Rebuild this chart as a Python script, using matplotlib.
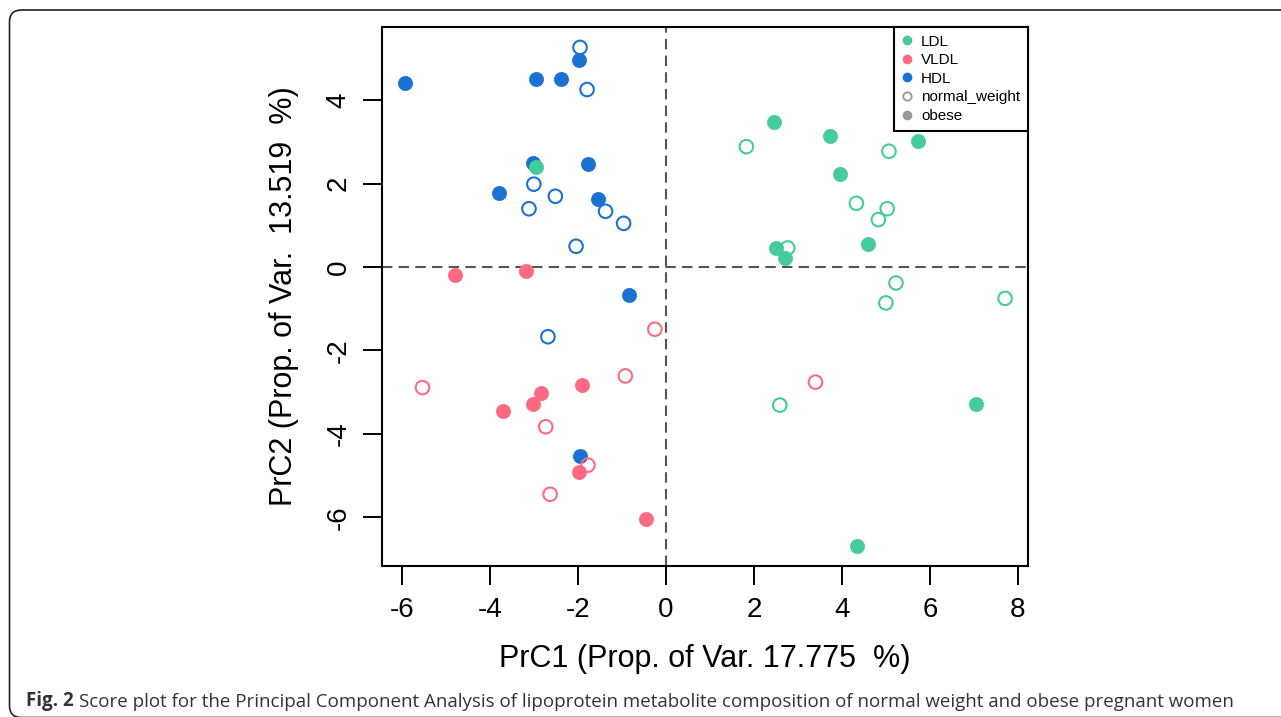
import matplotlib
matplotlib.use("Agg")
import matplotlib.pyplot as plt
from matplotlib.lines import Line2D
from matplotlib.patches import FancyBboxPatch

# PCA scores
hdl_x = [-5.92, -1.95, -1.98, -2.95, -2.39, -1.79, -3.01, -1.78, -3.00, -3.80,
         -2.51, -1.55, -3.11, -1.37, -0.96, -2.04, -0.83, -2.68, -1.96]
hdl_y = [4.41, 5.27, 4.98, 4.51, 4.51, 4.26, 2.50, 2.47, 1.99, 1.77,
         1.70, 1.64, 1.40, 1.34, 1.05, 0.50, -0.67, -1.67, -4.52]
hdl_obese = [1, 0, 1, 1, 1, 0, 1, 1, 0, 1, 0, 1, 0, 0, 0, 0, 1, 0, 1]

ldl_x = [-2.94, 2.45, 3.73, 5.73, 1.83, 5.07, 3.95, 4.33, 5.03, 4.83,
         4.59, 2.51, 2.77, 2.71, 5.23, 5.00, 7.71, 2.59, 7.04, 4.35]
ldl_y = [2.41, 3.48, 3.14, 3.03, 2.89, 2.78, 2.23, 1.53, 1.40, 1.14,
         0.56, 0.46, 0.46, 0.23, -0.38, -0.86, -0.75, -3.31, -3.29, -6.70]
ldl_obese = [1, 1, 1, 1, 0, 0, 1, 0, 0, 0, 1, 1, 0, 1, 0, 0, 0, 0, 1, 1]

vldl_x = [-4.80, -3.17, -0.25, -5.53, -0.92, -1.90, -2.83, -3.01, -3.69, -2.73,
          -1.77, -1.98, -2.63, -0.46, 3.40]
vldl_y = [-0.18, -0.10, -1.49, -2.89, -2.61, -2.82, -3.01, -3.29, -3.45, -3.83,
          -4.75, -4.92, -5.45, -6.05, -2.76]
vldl_obese = [1, 1, 0, 0, 0, 1, 1, 1, 1, 0, 0, 1, 0, 1, 0]

groups = ["LDL", "VLDL", "HDL"]
colors = {"LDL": "#46CC9A", "VLDL": "#FF6A82", "HDL": "#1A72D3"}

xlabel = "PrC1 (Prop. of Var. 17.775  %)"
ylabel = "PrC2 (Prop. of Var.  13.519  %)"
caption_bold = "Fig. 2"
caption = ("Score plot for the Principal Component Analysis of lipoprotein metabolite "
           "composition of normal weight and obese pregnant women")

plt.rcParams["font.family"] = ["Liberation Sans", "DejaVu Sans"]
plt.rcParams["axes.unicode_minus"] = False

fig = plt.figure(figsize=(12.81, 7.17), dpi=100)
ax = fig.add_axes([382 / 1281, 1 - 566 / 717, 646 / 1281, 539 / 717])

data = {"HDL": (hdl_x, hdl_y, hdl_obese),
        "LDL": (ldl_x, ldl_y, ldl_obese),
        "VLDL": (vldl_x, vldl_y, vldl_obese)}

for g in ["HDL", "LDL", "VLDL"]:
    xs, ys, ob = data[g]
    c = colors[g]
    for x, y, o in zip(xs, ys, ob):
        if o:
            ax.scatter(x, y, s=105, color=c, edgecolors=c, linewidths=0.5, zorder=3)
        else:
            ax.scatter(x, y, s=95, facecolors="none", edgecolors=c, linewidths=1.5, zorder=3)

ax.axhline(0, color="#555555", lw=1.5, ls=(0, (5, 3)), zorder=2)
ax.axvline(0, color="#555555", lw=1.5, ls=(0, (5, 3)), zorder=2)

ax.set_xlim(-6.45, 8.23)
ax.set_ylim(-7.17, 5.76)
ax.set_xticks([-6, -4, -2, 0, 2, 4, 6, 8])
ax.set_yticks([-6, -4, -2, 0, 2, 4])
ax.set_yticklabels(["-6", "-4", "-2", "0", "2", "4"], rotation=90, va="center")
ax.tick_params(length=14, width=1.4, labelsize=20, pad=8)

for sp in ax.spines.values():
    sp.set_linewidth(1.5)

ax.set_xlabel(xlabel, fontsize=22)
ax.set_ylabel(ylabel, fontsize=22)
ax.xaxis.set_label_coords(0.5, -0.145)
ax.yaxis.set_label_coords(-0.128, 0.5)

handles = [Line2D([], [], ls="", marker="o", ms=6, color=colors[g]) for g in groups]
handles.append(Line2D([], [], ls="", marker="o", ms=6, mfc="none", mec="#999999", mew=1.3))
handles.append(Line2D([], [], ls="", marker="o", ms=6, color="#999999"))
leg = ax.legend(handles, groups + ["normal_weight", "obese"], loc="upper right",
                bbox_to_anchor=(1, 1), borderaxespad=0, fancybox=False, framealpha=1,
                edgecolor="black", fontsize=11, handlelength=0.8, handletextpad=0.5,
                labelspacing=0.3, borderpad=0.5)
leg.get_frame().set_linewidth(1.5)

# outer frame of the figure panel
frame = FancyBboxPatch((0.095, -0.005), 13.5, 7.075, boxstyle="round,pad=0,rounding_size=0.12",
                       transform=fig.dpi_scale_trans, fill=False, ec="#222222", lw=1.2,
                       clip_on=False)
fig.add_artist(frame)

t1 = fig.text(26 / 1281, 1 - 706 / 717, caption_bold, fontsize=13.5, fontweight="bold",
              family=["Open Sans", "DejaVu Sans"], color="#333333", va="baseline")
ax.annotate(caption, xy=(1, 0), xycoords=t1, xytext=(5, 0), textcoords="offset pixels",
            fontsize=13.5, family=["Open Sans", "DejaVu Sans"], color="#333333",
            va="bottom", ha="left", annotation_clip=False)

fig.savefig("out.png", dpi=100)
